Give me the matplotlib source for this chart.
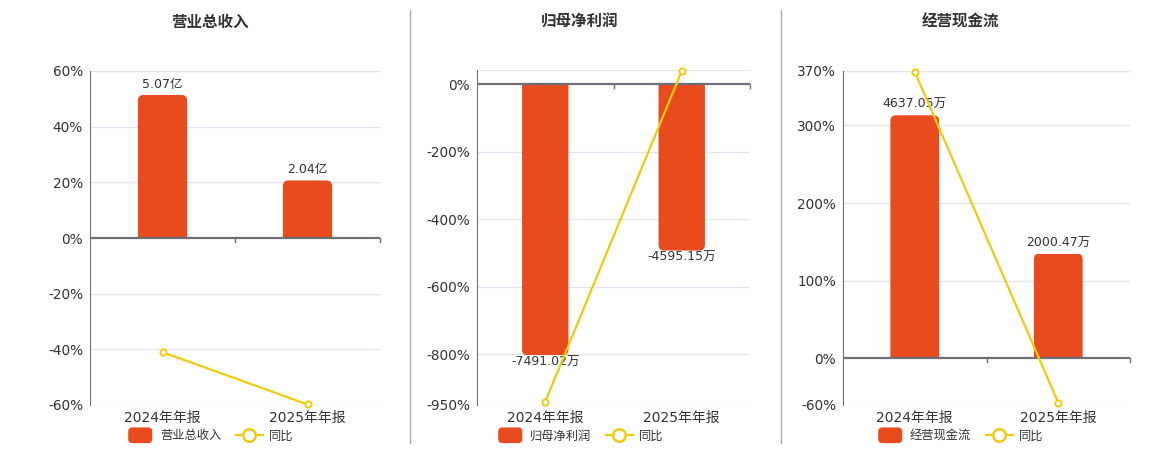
import matplotlib.pyplot as plt
from matplotlib.lines import Line2D
from matplotlib.patches import FancyBboxPatch, Rectangle
from matplotlib.legend_handler import HandlerPatch
import numpy as np

plt.rcParams['font.family'] = ['DejaVu Sans', 'Noto Sans CJK SC']

# 数据
categories = ['2024年年报', '2025年年报']
titles = ['营业总收入', '归母净利润', '经营现金流']
bar_values = [[5.07, 2.04], [-7491.02, -4595.15], [4637.05, 2000.47]]
bar_labels = [['5.07亿', '2.04亿'], ['-7491.02万', '-4595.15万'], ['4637.05万', '2000.47万']]
yoy_values = [[-41.0, -59.8], [-940.0, 38.66], [369.0, -56.9]]
pct_ticks = [[60, 40, 20, 0, -20, -40, -60],
             [0, -200, -400, -600, -800, -950],
             [370, 300, 200, 100, 0, -60]]
pct_limits = [(-60, 60), (-950, 42), (-60, 370)]
# 柱子所在副轴: 每 1% 对应的数值
bar_per_pct = [5.07 / 51.4, 7491.02 / 803, 4637.05 / 313]

BAR = '#E84C1E'
LINE = '#F2CA0F'
AXIS = '#6E7079'
GRID = '#E0E6F1'
TXT = '#333333'


class RoundHandler(HandlerPatch):
    def create_artists(self, legend, orig_handle, xdescent, ydescent, width, height, fontsize, trans):
        p = FancyBboxPatch((-xdescent + 1, -ydescent - 2), width - 2, height + 4,
                           boxstyle='round,pad=0,rounding_size=3',
                           fc=BAR, ec='none', transform=trans)
        return [p]


fig = plt.figure(figsize=(11.6, 4.5), dpi=100)
W, H = 1160, 450
boxes = [(90, 380, 71), (477, 750, 70), (843, 1130, 71)]
title_x = [210, 580, 960]

for i in range(3):
    x0, x1, ytop = boxes[i]
    ax = fig.add_axes([x0 / W, (H - 405) / H, (x1 - x0) / W, (405 - ytop) / H])
    lo, hi = pct_limits[i]
    ax.set_ylim(lo, hi)
    ax.set_xlim(-0.5, 1.5)
    ax.set_yticks(pct_ticks[i])
    ax.set_yticklabels([f'{t}%' for t in pct_ticks[i]], fontsize=9.8, color=TXT)
    for s in ['top', 'right', 'bottom']:
        ax.spines[s].set_visible(False)
    ax.spines['left'].set_color(AXIS)
    ax.tick_params(axis='y', length=0, pad=5)
    ax.set_xticks([0, 1])
    ax.set_xticklabels(categories, fontsize=10, color=TXT)
    ax.tick_params(axis='x', length=0, pad=4)
    # x 轴线 (0 处)
    ax.axhline(0, color=AXIS, lw=1.6, zorder=4)
    span = hi - lo
    for xb in [0.5, 1.5]:
        ax.plot([xb, xb], [0, -span * 0.012], color=AXIS, lw=1, zorder=4, clip_on=False)

    # 柱子 (副轴, 零点对齐)
    k = bar_per_pct[i]
    ax2 = ax.twinx()
    ax2.set_ylim(lo * k, hi * k)
    ax2.set_xlim(-0.5, 1.5)
    ax2.axis('off')
    ax.set_zorder(2)
    ax.patch.set_visible(False)
    for t in pct_ticks[i] + [hi]:
        if t != 0:
            ax2.axhline(t * k, color=GRID, lw=0.9, zorder=0)
    bw = 0.34
    asp = span * k * 0.43
    ry = 0.05 * asp
    for j, v in enumerate(bar_values[i]):
        # 只在远离零线的一端做圆角: 向零线外多画一段再裁掉
        if v >= 0:
            y_start, hgt = -ry, v + ry
        else:
            y_start, hgt = v, -v + ry
        p = FancyBboxPatch((j - bw / 2, y_start), bw, hgt,
                           boxstyle='round,pad=0,rounding_size=0.04',
                           mutation_aspect=asp, fc=BAR, ec='none', lw=0, zorder=2)
        ax2.add_patch(p)
        clip = Rectangle((j - bw, 0), bw * 2, v, transform=ax2.transData)
        p.set_clip_path(clip)
        off = span * k * 0.012
        if v >= 0:
            ax2.text(j, v + off, bar_labels[i][j], ha='center', va='bottom',
                     fontsize=9, color=TXT, zorder=5)
        else:
            ax2.text(j, v - off * 0.1, bar_labels[i][j], ha='center', va='top',
                     fontsize=9, color=TXT, zorder=5)

    # 同比折线
    ax.plot([0, 1], yoy_values[i], color=LINE, lw=1.6, marker='o', ms=4.5,
            mfc='white', mec=LINE, mew=1.4, zorder=6, clip_on=False)

    fig.text(title_x[i] / W, 1 - 22 / H, titles[i], ha='center', va='center',
             fontsize=11.2, fontweight='bold', color=TXT)

    handles = [Rectangle((0, 0), 1, 1, fc=BAR),
               Line2D([0], [0], color=LINE, lw=1.6, marker='o', ms=9,
                      mfc='white', mec=LINE, mew=1.8)]
    fig.legend(handles, [titles[i], '同比'], loc='center',
               bbox_to_anchor=(title_x[i] / W, 1 - 436 / H), ncol=2,
               frameon=False, fontsize=8.8, labelcolor=TXT, handlelength=2.2,
               handleheight=0.9, columnspacing=1.2, handletextpad=0.5,
               handler_map={Rectangle: RoundHandler()})

# 分隔线
for xs in [410, 781]:
    fig.add_artist(Line2D([xs / W, xs / W], [1 - 10 / H, 1 - 443 / H],
                          color='#AAAAAA', lw=1))

fig.savefig('out.png', dpi=100)
